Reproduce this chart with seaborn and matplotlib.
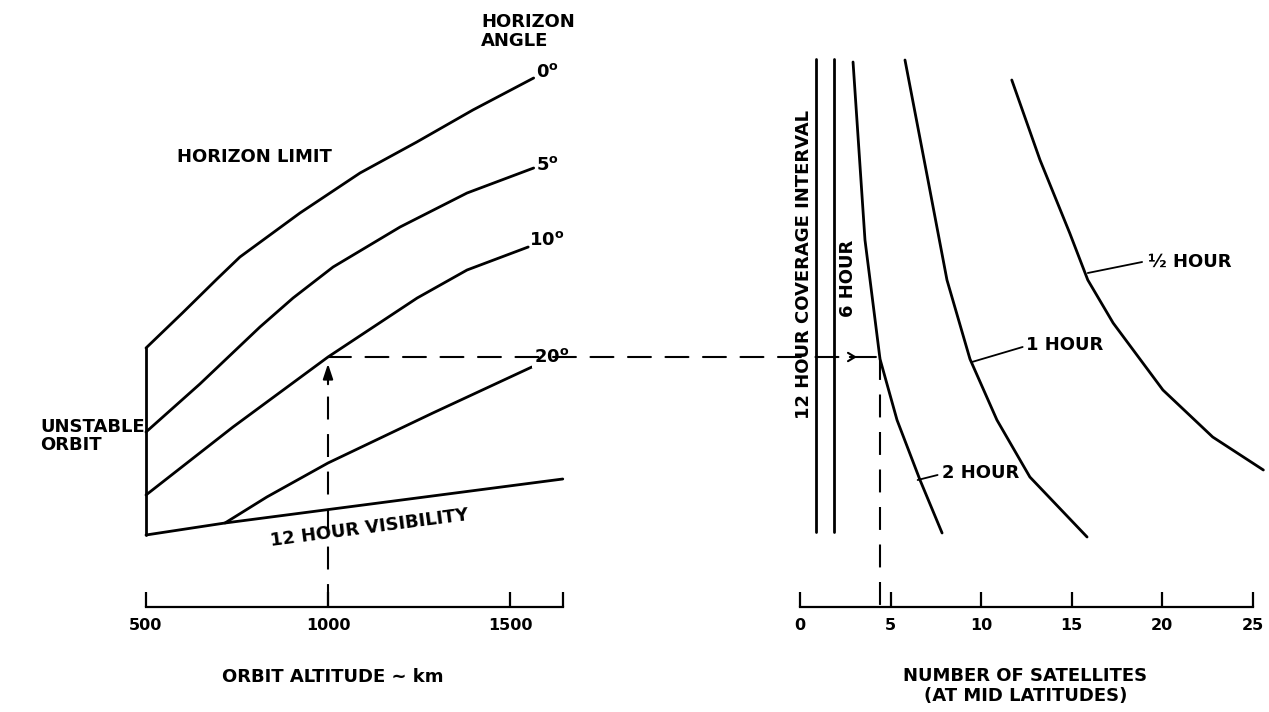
import matplotlib
matplotlib.use("Agg")
import matplotlib.pyplot as plt
import seaborn as sns
from matplotlib.patches import ConnectionPatch

# ---------------- data ----------------
# Left panel: orbit altitude (km) vs. relative height on the chart (no scale)
alt_0 = [500, 600, 695, 758, 923, 1088, 1244, 1398, 1565]
h_0 = [25.9, 29.4, 32.8, 35.0, 39.4, 43.4, 46.5, 49.7, 52.9]
alt_5 = [500, 648, 813, 904, 1014, 1198, 1382, 1565]
h_5 = [17.5, 22.3, 28.0, 30.9, 34.0, 38.0, 41.4, 43.9]
alt_10 = [500, 739, 1000, 1245, 1382, 1550]
h_10 = [11.2, 18.0, 25.0, 30.9, 33.7, 36.0]
alt_20 = [717, 832, 1000, 1288, 1560]
h_20 = [8.4, 11.0, 14.4, 19.4, 24.0]
alt_vis = [500, 717, 1645]
h_vis = [7.2, 8.4, 12.8]
alt_unstable = [500, 500]
h_unstable = [7.2, 25.9]

# Right panel: number of satellites vs. same relative height
n_12h = [0.9, 0.9]
h_12h = [7.5, 54.8]
n_6h = [1.9, 1.9]
h_6h = [7.5, 54.8]
n_2h = [2.93, 3.59, 3.87, 4.42, 5.36, 6.63, 7.85]
h_2h = [54.5, 36.7, 32.7, 24.8, 18.7, 12.7, 7.4]
n_1h = [5.8, 7.07, 8.12, 9.39, 10.88, 12.7, 15.86]
h_1h = [54.7, 42.7, 32.7, 24.8, 18.7, 13.0, 7.0]
n_half = [11.7, 13.26, 14.9, 15.9, 17.3, 20.05, 22.8, 25.6]
h_half = [52.7, 44.7, 37.4, 32.7, 28.4, 21.7, 17.0, 13.7]

# worked example
ex_alt = 1000
ex_h = 25.0
ex_n = 4.4

alt_ticks = [500, 1000, 1500, 1645]
alt_ticklabels = ["500", "1000", "1500", ""]
n_ticks = [0, 5, 10, 15, 20, 25]
n_ticklabels = ["0", "5", "10", "15", "20", "25"]

# ---------------- style ----------------
sns.set_style("white")
plt.rcParams["font.family"] = ["DejaVu Sans"]
plt.rcParams["font.weight"] = "bold"
plt.rcParams["mathtext.fontset"] = "dejavusans"
plt.rcParams["text.color"] = "black"
plt.rcParams["axes.labelcolor"] = "black"
plt.rcParams["xtick.color"] = "black"

W, H = 1269, 712
fig = plt.figure(figsize=(W / 100, H / 100), dpi=100)
bottom = 1 - 607 / H
height = 607 / H
ax1 = fig.add_axes([109.6 / W, bottom, 473.2 / W, height])
ax2 = fig.add_axes([781.9 / W, bottom, 486.9 / W, height])

LW = 2.0
FS = 13
TFS = 11.5

def curve(ax, x, y):
    sns.lineplot(x=x, y=y, ax=ax, color="black", lw=LW, sort=False,
                 estimator=None, legend=False)

for x, y in [(alt_0, h_0), (alt_5, h_5), (alt_10, h_10), (alt_20, h_20),
             (alt_vis, h_vis), (alt_unstable, h_unstable)]:
    curve(ax1, x, y)
for x, y in [(n_12h, h_12h), (n_6h, h_6h), (n_2h, h_2h), (n_1h, h_1h),
             (n_half, h_half)]:
    curve(ax2, x, y)

ax1.set_xlim(400, 1700)
ax2.set_xlim(-1, 25.9)
for ax in (ax1, ax2):
    ax.set_ylim(0, 60.7)
    ax.set_yticks([])
    ax.set_ylabel("")
    ax.set_xlabel("")
    for s in ("left", "right", "top"):
        ax.spines[s].set_visible(False)
    ax.spines["bottom"].set_linewidth(1.6)
    ax.spines["bottom"].set_color("black")
    ax.tick_params(axis="x", direction="in", length=11, width=1.6,
                   pad=8, labelsize=TFS, colors="black", bottom=True)

ax1.spines["bottom"].set_bounds(500, 1645)
ax2.spines["bottom"].set_bounds(0, 25)
ax1.set_xticks(alt_ticks)
ax1.set_xticklabels(alt_ticklabels, fontweight="bold")
ax2.set_xticks(n_ticks)
ax2.set_xticklabels(n_ticklabels, fontweight="bold")

# ---------------- dashed worked example ----------------
dash = (0, (11, 7))
ax1.plot([ex_alt, ex_alt], [0, ex_h - 2.6], color="black", lw=1.5, ls=dash)
ax1.annotate("", xy=(ex_alt, ex_h - 0.4), xytext=(ex_alt, ex_h - 3.0),
             arrowprops=dict(arrowstyle="-|>,head_length=0.9,head_width=0.3",
                             color="black", lw=1.5))
con = ConnectionPatch(xyA=(ex_alt, ex_h), coordsA=ax1.transData,
                      xyB=(ex_n, ex_h), coordsB=ax2.transData,
                      color="black", lw=1.5, ls=dash, zorder=1)
fig.add_artist(con)
ax2.annotate("", xy=(3.3, ex_h), xytext=(2.6, ex_h),
             arrowprops=dict(arrowstyle="->,head_length=0.5,head_width=0.3",
                             color="black", lw=1.5))
ax2.plot([ex_n, ex_n], [ex_h, 0], color="black", lw=1.5, ls=dash)

# ---------------- left panel text ----------------
ax1.text(1420, 59.4, "HORIZON\nANGLE", ha="left", va="top", fontsize=FS,
         fontweight="bold", linespacing=1.05)
ax1.text(1572, 53.5, r"$\mathbf{0^{o}}$", ha="left", va="center", fontsize=FS)
ax1.text(1572, 44.2, r"$\mathbf{5^{o}}$", ha="left", va="center", fontsize=FS)
ax1.text(1553, 36.7, r"$\mathbf{10^{o}}$", ha="left", va="center", fontsize=FS)
ax1.text(1566, 25.0, r"$\mathbf{20^{o}}$", ha="left", va="center", fontsize=FS,
         bbox=dict(facecolor="white", edgecolor="none", pad=1.5), zorder=5)
ax1.text(585, 45.0, "HORIZON LIMIT", ha="left", va="center", fontsize=FS,
         fontweight="bold")
ax1.text(209, 17.1, "UNSTABLE\nORBIT", ha="left", va="center", fontsize=FS,
         fontweight="bold", linespacing=1.05)
ax1.text(1115, 7.9, "12 HOUR VISIBILITY", ha="center", va="center",
         fontsize=FS, fontweight="bold", rotation=7.5)
ax1.text((333 - 109.6) / 473.2, -70 / 607, "ORBIT ALTITUDE ~ km",
         transform=ax1.transAxes, ha="center", va="center", fontsize=FS,
         fontweight="bold")

# ---------------- right panel text ----------------
ax2.text(0.2, 34.2, "12 HOUR COVERAGE INTERVAL", rotation=90, ha="center",
         va="center", fontsize=FS, fontweight="bold", zorder=5,
         bbox=dict(facecolor="white", edgecolor="none", pad=0.5))
ax2.text(2.65, 32.9, "6 HOUR", rotation=90, ha="center", va="center",
         fontsize=FS, fontweight="bold")

ax2.plot([15.9, 18.9], [33.4, 34.5], color="black", lw=1.3)
ax2.text(19.2, 34.5, "½ HOUR", ha="left", va="center", fontsize=FS,
         fontweight="bold")
ax2.plot([9.5, 12.3], [24.5, 26.0], color="black", lw=1.3)
ax2.text(12.5, 26.2, "1 HOUR", ha="left", va="center", fontsize=FS,
         fontweight="bold")
ax2.plot([6.5, 7.6], [12.7, 13.2], color="black", lw=1.3)
ax2.text(7.85, 13.4, "2 HOUR", ha="left", va="center", fontsize=FS,
         fontweight="bold")
ax2.text(0.5, -79 / 607, "NUMBER OF SATELLITES\n(AT MID LATITUDES)",
         transform=ax2.transAxes, ha="center", va="center", fontsize=FS,
         fontweight="bold", linespacing=1.15)

fig.savefig("out.png", dpi=100)
